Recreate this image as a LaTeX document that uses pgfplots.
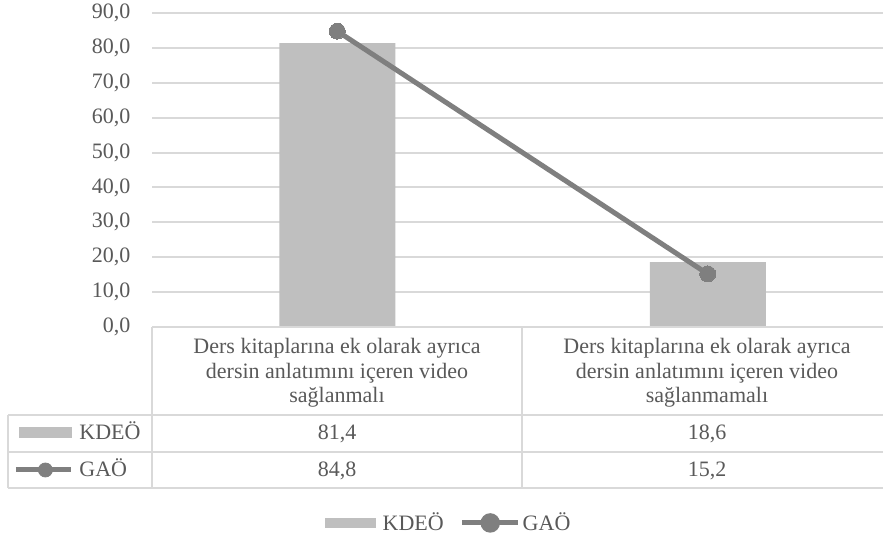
\documentclass[border=0pt]{standalone}
\usepackage{fontspec}
\setmainfont{Liberation Serif}
\usepackage{pgfplots}
\pgfplotsset{compat=1.18}
\definecolor{barc}{HTML}{BFBFBF}
\definecolor{linec}{HTML}{7F7F7F}
\definecolor{gridc}{HTML}{D9D9D9}
\definecolor{txt}{HTML}{595959}
\begin{document}
\fontsize{11}{13}\selectfont
\begin{tikzpicture}[x=1pt,y=1pt,font=\fontsize{11}{13}\selectfont,text=txt]
\path[use as bounding box] (0,0) rectangle (441.5,269.5);
\begin{axis}[at={(76pt,106pt)}, anchor=south west, scale only axis,
  width=370.5pt, height=157pt,
  xmin=-0.5, xmax=1.5, ymin=0, ymax=90, ytick={0,10,...,90}, xtick=\empty,
  axis line style={draw=none}, major tick length=0pt,
  ymajorgrids, grid style={gridc, line width=1pt},
  y tick label style={/pgf/number format/.cd, fixed, fixed zerofill, precision=1, use comma, 1000 sep={}, assume math mode=true, /tikz/.cd, xshift=-7pt, text=txt},
  legend columns=2,
  legend style={at={(0.3988,-0.624)}, anchor=center, draw=none, fill=none, inner sep=0pt,
    nodes={inner sep=0pt, text=txt},
    /tikz/column 1/.style={column sep=3.5pt},
    /tikz/column 2/.style={column sep=8pt},
    /tikz/column 3/.style={column sep=1pt}},
]
\addplot[ybar, bar width=58pt, fill=barc, draw=none,
  legend image code/.code={\fill[barc] (0pt,-2.5pt) rectangle (25.5pt,2.5pt);}]
  coordinates {(0,81.4) (1,18.6)};
\addlegendentry{KDEÖ}
\addplot[color=linec, line width=2.5pt, mark=*, mark size=4pt,
  mark options={solid, fill=linec, draw=linec, line width=0pt},
  legend image code/.code={\draw[linec,line width=2.5pt] (0pt,0pt) -- (28pt,0pt); \fill[linec] (14pt,0pt) circle (3.6pt);}]
  coordinates {(0,84.8) (1,15.2)};
\addlegendentry{GAÖ}
\end{axis}
\begin{axis}[at={(0pt,0pt)}, anchor=south west, scale only axis, width=100pt, height=100pt,
  hide axis, xmin=0, xmax=1, ymin=0, ymax=1,
  legend cell align=left,
  legend style={at={(0.065,0.4375)}, anchor=west, draw=none, fill=none, inner sep=0pt,
    nodes={inner sep=0pt, text height=7pt, text depth=0pt, anchor=west, text=txt},
    row sep=11.5pt,
    /tikz/every odd column/.append style={column sep=3pt}}]
\addlegendimage{legend image code/.code={\fill[barc] (2pt,-2.5pt) rectangle (27.5pt,2.5pt);}}
\addlegendentry{KDEÖ}
\addlegendimage{legend image code/.code={\draw[linec,line width=2.5pt] (0pt,0pt) -- (27.5pt,0pt); \fill[linec] (14.75pt,0pt) circle (3.5pt);}}
\addlegendentry{GAÖ}
\end{axis}
% data table grid
\draw[gridc, line width=1pt] (76,106) -- (450,106);
\draw[gridc, line width=1pt] (4,62) -- (450,62);
\draw[gridc, line width=1pt] (4,43.5) -- (450,43.5);
\draw[gridc, line width=1pt] (4,25.5) -- (450,25.5);
\draw[gridc, line width=1pt] (4,62) -- (4,25.5);
\draw[gridc, line width=1pt] (76,106) -- (76,25.5);
\draw[gridc, line width=1pt] (261,106) -- (261,25.5);
% header
\node[anchor=base] at (168.5,92.5) {Ders kitaplarına ek olarak ayrıca};
\node[anchor=base] at (168.5,80.25) {dersin anlatımını içeren video};
\node[anchor=base] at (168.5,68) {sağlanmalı};
\node[anchor=base] at (353.5,92.5) {Ders kitaplarına ek olarak ayrıca};
\node[anchor=base] at (353.5,80.25) {dersin anlatımını içeren video};
\node[anchor=base] at (353.5,68) {sağlanmamalı};
% values
\node[anchor=base] at (168.5,49.5) {81,4};
\node[anchor=base] at (353.5,49.5) {18,6};
\node[anchor=base] at (168.5,31) {84,8};
\node[anchor=base] at (353.5,31) {15,2};
\end{tikzpicture}
\end{document}
